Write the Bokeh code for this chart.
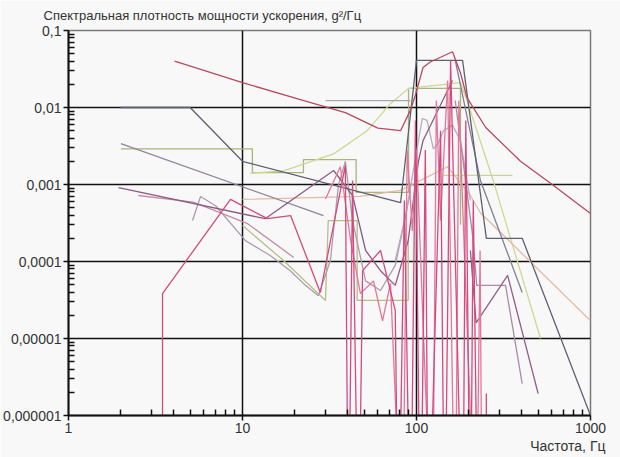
from bokeh.plotting import figure
from bokeh.models import Range1d, FixedTicker, CustomJSTickFormatter, Title
from bokeh.embed import file_html
from bokeh.resources import INLINE

# ---- axes / ticks ----
FREQ_TICKS = [1, 10, 100, 1000]
FREQ_LABELS = ["1", "10", "100", "1000"]
PSD_TICKS = [1e-6, 1e-5, 1e-4, 1e-3, 1e-2, 1e-1]
PSD_LABELS = ["0,000001", "0,00001", "0,0001", "0,001", "0,01", "0,1"]
TITLE_Y = "Спектральная плотность мощности ускорения, g²/Гц"
TITLE_X = "Частота, Гц"
ZERO = 1e-8  # values that drop to zero (below the log axis)

# ---- series (frequency, Hz ; PSD, g^2/Hz) ----
crimson_x = [4.07, 10, 21.5, 39, 60, 81, 92, 99, 109, 120, 161, 179, 195, 250, 396, 589, 1000]
crimson_y = [0.040, 0.021, 0.0127, 0.0086, 0.0054, 0.005, 0.0091, 0.015, 0.033, 0.039, 0.053, 0.028, 0.0134, 0.0055, 0.002, 0.00104, 0.00042]

slate_x = [1.99, 5.0, 10, 81, 100, 184, 252, 405, 1000]
slate_y = [0.01, 0.01, 0.0020, 0.00058, 0.041, 0.041, 0.0002, 0.0002, 1e-6]

olive_x = [2.0, 11.4, 11.4, 22.4, 22.4, 45, 45, 90, 90, 179, 179]
olive_y = [0.0029, 0.0029, 0.00143, 0.00143, 0.00211, 0.00211, 0.00079, 0.00079, 0.0177, 0.0177, 0.0003]

olive2_x = [10, 17.2, 30, 31.1, 45.6, 45.6, 89.6, 89.6]
olive2_y = [0.000294, 0.000103, 3.12e-5, 0.00034, 0.00034, 3.12e-5, 3.12e-5, 0.000187]

lime_x = [11.1, 17.2, 33.4, 52, 71, 90, 179, 195, 277, 516]
lime_y = [0.0014, 0.0015, 0.0025, 0.005, 0.0113, 0.0177, 0.021, 0.0123, 0.0011, 1e-5]

lime2_x = [143, 356]
lime2_y = [0.00131, 0.00131]

greyviolet_x = [2.0, 29.2]
greyviolet_y = [0.0034, 0.000395]

purple_x = [1.94, 13.5, 33.4, 42.9, 51, 62.1, 75.5, 89.6, 102.6, 109, 161]
purple_y = [0.00091, 0.00036, 0.00152, 0.00072, 0.000139, 7.6e-5, 4.9e-5, 0.000187, 0.0020, 0.0037, 0.0224]

mauve_x = [5.16, 5.74, 7.0, 10.4, 14.5, 18.8, 23.0, 27.3, 32.0, 35.6, 39.0, 42.9, 51, 62.1, 75.5, 86.6, 92.4]
mauve_y = [0.00034, 0.00070, 0.00053, 0.000187, 0.000119, 7.6e-5, 4.9e-5, 3.6e-5, 0.000103, 0.00098, 0.0020, 0.00034, 5.6e-5, 4.2e-5, 8.9e-5, 0.000395, 0.00084]

peach_x = [10, 47.6, 81, 151, 204, 233, 1000]
peach_y = [0.00064, 0.00070, 0.00084, 0.0017, 0.00072, 0.00043, 1.7e-5]

lightgrey_x = [30, 92.4]
lightgrey_y = [0.0123, 0.0123]

mauve2_x = [167, 210, 222, 325, 405]
mauve2_y = [0.0123, 0.00022, 4.9e-5, 4.9e-5, 2.6e-6]

plum_x = [204, 220, 334, 500]
plum_y = [0.000139, 1.6e-5, 6.6e-5, 1.93e-6]

steel_x = [167, 233, 405]
steel_y = [0.041, 0.00113, 3.95e-5]

lilac_x = [75.5, 86.6, 102.6, 108, 115, 125, 133, 143, 161, 179, 204]
lilac_y = [0.000103, 0.000395, 0.0037, 0.0072, 0.0068, 0.0029, 0.0034, 0.0050, 0.0059, 0.0037, 0.00062]

rose_x = [2.52, 5.22, 10.7, 19.7]
rose_y = [0.00072, 0.00059, 0.00031, 0.000113]

pink_x = [3.47, 3.47, 8.53, 13.9, 18.9, 28.0, 39.0, 40.6, 42.9, 46.4, 49.0, 62.1, 75.5, 78.7, 85.2, 92.4, 98.6, 105.5, 112.4, 117, 137.5, 145, 157, 184.5, 192, 204, 212, 226]
pink_y = [ZERO, 3.84e-5, 0.00064, 0.00036, 0.000395, 3.95e-5, 0.00177, ZERO, 0.00113, ZERO, 7.6e-5, 0.000139, 2.3e-5, ZERO, 0.00062, ZERO, 0.0068, ZERO, 0.0028, ZERO, 0.005, ZERO, 0.0408, ZERO, 0.0068, ZERO, 0.00062, ZERO]

pink2_x = [30, 36.5, 41.8, 47.6, 56.6, 63.8, 70.9, 83.0, 88.4, 94.6, 100, 123.5, 130, 137.5, 151, 167, 175, 220, 232, 239]
pink2_y = [0.00065, 0.0017, 0.00019, 3.84e-5, 5.6e-5, 1.7e-5, 5.2e-5, ZERO, 0.0028, 0.00025, 0.0028, ZERO, 0.0123, 0.00034, 0.0224, ZERO, 0.0123, ZERO, 0.000139, ZERO]

pink3_x = [252, 252]
pink3_y = [1.93e-6, ZERO]

series = [
    (olive_x, olive_y, "#a9b37c"),
    (olive2_x, olive2_y, "#b6bd86"),
    (lime_x, lime_y, "#cdd894"),
    (lime2_x, lime2_y, "#c8d49c"),
    (peach_x, peach_y, "#e2bba8"),
    (lightgrey_x, lightgrey_y, "#a6a6ae"),
    (greyviolet_x, greyviolet_y, "#8f8599"),
    (mauve_x, mauve_y, "#ab9bac"),
    (lilac_x, lilac_y, "#b9a9c0"),
    (rose_x, rose_y, "#c68da6"),
    (mauve2_x, mauve2_y, "#a88aa5"),
    (plum_x, plum_y, "#8f6088"),
    (steel_x, steel_y, "#7f8090"),
    (purple_x, purple_y, "#8e5a84"),
    (slate_x, slate_y, "#5d6070"),
    (pink2_x, pink2_y, "#e27799"),
    (pink_x, pink_y, "#d24a7e"),
    (pink3_x, pink3_y, "#d24a7e"),
    (crimson_x, crimson_y, "#b9485f"),
]

BG = "#f8f8f8"
p = figure(width=620, height=457, x_axis_type="log", y_axis_type="log",
           x_range=Range1d(FREQ_TICKS[0], FREQ_TICKS[-1]),
           y_range=Range1d(PSD_TICKS[0], PSD_TICKS[-1]),
           output_backend="svg", toolbar_location=None,
           min_border_left=68, min_border_right=30, min_border_top=30, min_border_bottom=42,
           background_fill_color=BG, border_fill_color=BG,
           outline_line_color="#7a7a7a", outline_line_width=1.5)

for xs, ys, c in series:
    p.line(xs, ys, line_color=c, line_width=1.3)

x_minor = [m * 10.0 ** k for k in range(0, 3) for m in range(2, 10)]
y_minor = [m * 10.0 ** k for k in range(-6, -1) for m in range(2, 10)]
p.xaxis.ticker = FixedTicker(ticks=FREQ_TICKS, minor_ticks=x_minor)
p.yaxis.ticker = FixedTicker(ticks=PSD_TICKS, minor_ticks=y_minor)

fmt_code = """
const i = tvals.findIndex(t => Math.abs(Math.log10(t / tick)) < 1e-6);
return i >= 0 ? tlabels[i] : "";
"""
p.xaxis.formatter = CustomJSTickFormatter(args=dict(tvals=FREQ_TICKS, tlabels=FREQ_LABELS), code=fmt_code)
p.yaxis.formatter = CustomJSTickFormatter(args=dict(tvals=PSD_TICKS, tlabels=PSD_LABELS), code=fmt_code)

for ax in (p.xaxis[0], p.yaxis[0]):
    ax.axis_line_color = "#111111"
    ax.axis_line_width = 2
    ax.major_tick_in = 0
    ax.major_tick_out = 5
    ax.major_tick_line_width = 1.5
    ax.major_tick_line_color = "#111111"
    ax.minor_tick_in = 6
    ax.minor_tick_out = 0
    ax.minor_tick_line_width = 1.5
    ax.minor_tick_line_color = "#111111"
    ax.major_label_text_font = "Liberation Sans"
    ax.major_label_text_font_size = "14px"
    ax.major_label_text_color = "#333333"
    ax.major_label_standoff = 2

p.xgrid.ticker = FixedTicker(ticks=FREQ_TICKS[1:-1])
p.ygrid.ticker = FixedTicker(ticks=PSD_TICKS[1:-1])
for g in (p.xgrid[0], p.ygrid[0]):
    g.grid_line_color = "#111111"
    g.grid_line_width = 1.5

p.title.text = TITLE_Y
p.title.align = "left"
p.title.vertical_align = "top"
p.title.offset = -25
p.title.standoff = 12
p.title.text_font = "Liberation Sans"
p.title.text_font_size = "13px"
p.title.text_font_style = "normal"
p.title.text_color = "#333333"

p.add_layout(Title(text=TITLE_X, align="right", offset=-15, standoff=0,
                   text_font="Liberation Sans", text_font_size="14px",
                   text_font_style="normal", text_color="#333333"), "below")

open("out.html", "w").write(file_html(p, INLINE))
